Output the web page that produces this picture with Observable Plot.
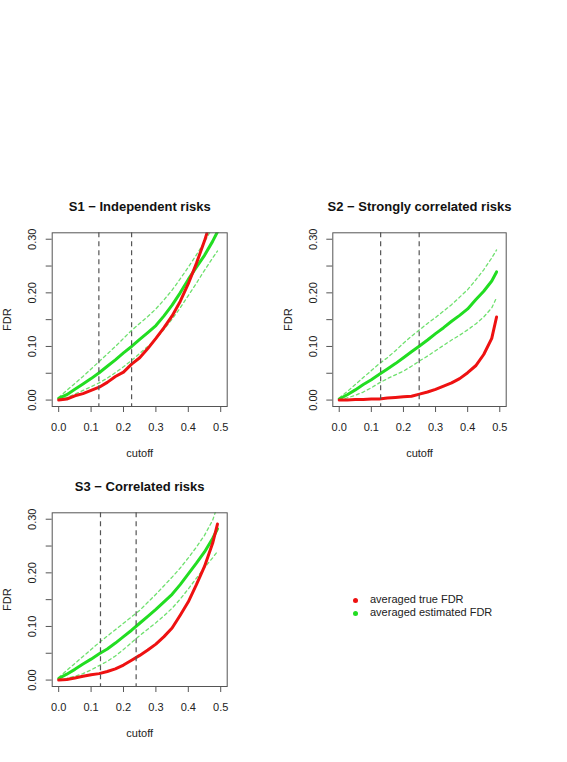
<!DOCTYPE html>
<html>
<head>
<meta charset="utf-8">
<script src="https://cdn.jsdelivr.net/npm/d3@7"></script>
<script src="https://cdn.jsdelivr.net/npm/@observablehq/plot@0.6"></script>
<style>
  html, body { margin: 0; padding: 0; background: #ffffff; }
  #page { position: relative; width: 567px; height: 762px; overflow: hidden;
          font-family: "Liberation Sans", Arial, sans-serif; color: #222; }
  .panel { position: absolute; }
  .legend { position: absolute; font-size: 11px; line-height: 13px; }
  .legend .row { position: absolute; white-space: nowrap; }
  .legend .dot { position: absolute; width: 5px; height: 5px; border-radius: 50%; }
</style>
</head>
<body>
<div id="page"></div>
<script>
// Cutoff grid on which the averaged FDR curves were evaluated
const cutoff = [0, 0.025, 0.05, 0.075, 0.1, 0.125, 0.15, 0.175, 0.2, 0.225, 0.25,
                0.275, 0.3, 0.325, 0.35, 0.375, 0.4, 0.425, 0.45, 0.475, 0.49];

// S1 - independent risks
const s1True  = [0.000, 0.002, 0.008, 0.012, 0.018, 0.024, 0.033, 0.044, 0.052, 0.067, 0.079,
                 0.096, 0.115, 0.135, 0.157, 0.184, 0.217, 0.255, 0.297, 0.345, 0.375];
const s1Est   = [0.003, 0.010, 0.020, 0.030, 0.040, 0.051, 0.063, 0.075, 0.088, 0.100, 0.113,
                 0.126, 0.139, 0.157, 0.177, 0.200, 0.225, 0.248, 0.270, 0.296, 0.314];
const s1Lower = [0.000, 0.005, 0.011, 0.018, 0.025, 0.032, 0.041, 0.051, 0.062, 0.074, 0.087,
                 0.100, 0.114, 0.132, 0.151, 0.172, 0.195, 0.218, 0.242, 0.265, 0.278];
const s1Upper = [0.005, 0.018, 0.031, 0.044, 0.058, 0.072, 0.086, 0.100, 0.115, 0.130, 0.143,
                 0.156, 0.170, 0.187, 0.205, 0.226, 0.248, 0.271, 0.295, 0.322, 0.338];
const s1Cuts  = [0.124, 0.225];

// S2 - strongly correlated risks
const s2True  = [0.000, 0.000, 0.001, 0.001, 0.002, 0.002, 0.004, 0.005, 0.006, 0.007, 0.011,
                 0.015, 0.020, 0.026, 0.032, 0.040, 0.051, 0.064, 0.085, 0.115, 0.155];
const s2Est   = [0.002, 0.010, 0.019, 0.029, 0.038, 0.048, 0.058, 0.068, 0.079, 0.090, 0.101,
                 0.112, 0.124, 0.135, 0.147, 0.158, 0.170, 0.187, 0.203, 0.222, 0.239];
const s2Lower = [0.000, 0.004, 0.009, 0.015, 0.023, 0.032, 0.040, 0.047, 0.054, 0.063, 0.073,
                 0.082, 0.092, 0.102, 0.112, 0.121, 0.131, 0.142, 0.155, 0.172, 0.191];
const s2Upper = [0.004, 0.016, 0.029, 0.042, 0.055, 0.068, 0.079, 0.092, 0.106, 0.119, 0.131,
                 0.143, 0.154, 0.166, 0.178, 0.192, 0.206, 0.224, 0.243, 0.265, 0.280];
const s2Cuts  = [0.129, 0.249];

// S3 - correlated risks
const s3True  = [0.000, 0.001, 0.004, 0.007, 0.010, 0.012, 0.016, 0.021, 0.028, 0.037, 0.046,
                 0.056, 0.067, 0.081, 0.097, 0.121, 0.146, 0.178, 0.212, 0.255, 0.291];
const s3Est   = [0.003, 0.011, 0.020, 0.030, 0.039, 0.049, 0.058, 0.069, 0.081, 0.093, 0.106,
                 0.119, 0.132, 0.146, 0.160, 0.178, 0.198, 0.218, 0.239, 0.264, 0.282];
const s3Lower = [0.000, 0.003, 0.007, 0.012, 0.019, 0.027, 0.035, 0.045, 0.057, 0.070, 0.083,
                 0.095, 0.107, 0.120, 0.134, 0.151, 0.170, 0.190, 0.210, 0.228, 0.240];
const s3Upper = [0.005, 0.018, 0.031, 0.044, 0.057, 0.070, 0.082, 0.094, 0.106, 0.118, 0.130,
                 0.145, 0.160, 0.176, 0.192, 0.209, 0.228, 0.248, 0.270, 0.298, 0.325];
const s3Cuts  = [0.129, 0.239];

// Axis ticks
const xTicks = [0, 0.1, 0.2, 0.3, 0.4, 0.5];
const yTicks = [0, 0.05, 0.10, 0.15, 0.20, 0.25, 0.30];
const yLabels = [0, 0.10, 0.20, 0.30];

const legendLabels = ["averaged true FDR", "averaged estimated FDR"];

const RED = "#ee1111";
const GREEN = "#22dd22";
const CI = "#6fe06f";
const AXIS = "#555555";
const FONT = "'Liberation Sans', Arial, sans-serif";

const page = document.getElementById("page");

function panel({title, left, top, width, height, margins, trueFdr, estFdr, lower, upper, cuts}) {
  const rows = cutoff.map((c, i) => ({
    cutoff: c, trueFdr: trueFdr[i], estFdr: estFdr[i], lower: lower[i], upper: upper[i]
  }));
  const chart = Plot.plot({
    width, height,
    marginLeft: margins[0], marginRight: margins[1], marginTop: margins[2], marginBottom: margins[3],
    x: {domain: [-0.02, 0.52]},
    y: {domain: [-0.012, 0.312]},
    style: {fontFamily: FONT, fontSize: "11px", color: "#222", background: "transparent", overflow: "visible"},
    marks: [
      Plot.line(rows, {x: "cutoff", y: "upper", stroke: CI, strokeWidth: 1.3, strokeDasharray: "3,3", clip: true}),
      Plot.line(rows, {x: "cutoff", y: "lower", stroke: CI, strokeWidth: 1.3, strokeDasharray: "3,3", clip: true}),
      Plot.line(rows, {x: "cutoff", y: "estFdr", stroke: GREEN, strokeWidth: 3, clip: true}),
      Plot.line(rows, {x: "cutoff", y: "trueFdr", stroke: RED, strokeWidth: 3, clip: true}),
      Plot.ruleX(cuts, {stroke: AXIS, strokeWidth: 1.2, strokeDasharray: "5,4"}),
      Plot.frame({stroke: AXIS, strokeWidth: 1}),
      Plot.axisX({ticks: xTicks, tickSize: 6, tickPadding: 11, tickFormat: d3.format(".1f"),
                  label: null, stroke: AXIS, fill: "#222"}),
      Plot.axisY({ticks: yTicks, tickSize: 6, tickFormat: () => "", label: null, stroke: AXIS}),
      Plot.text(yLabels, {y: d => d, text: d3.format(".2f"), frameAnchor: "left", dx: -19.5,
                          rotate: -90, textAnchor: "middle", lineAnchor: "middle", fill: "#222"}),
      Plot.text([title], {text: d => d, frameAnchor: "top", dy: -26.3, lineAnchor: "middle",
                          fontWeight: "bold", fontSize: 13, fill: "#111"}),
      Plot.text(["cutoff"], {text: d => d, frameAnchor: "bottom", dy: 47.3, lineAnchor: "middle", fill: "#222"}),
      Plot.text(["FDR"], {text: d => d, frameAnchor: "left", dx: -44.5, rotate: -90,
                          lineAnchor: "middle", textAnchor: "middle", fill: "#222"})
    ]
  });
  const holder = document.createElement("div");
  holder.className = "panel";
  holder.style.left = left + "px";
  holder.style.top = top + "px";
  holder.appendChild(chart);
  page.appendChild(holder);
}

panel({title: "S1 \u2212 Independent risks", left: 0, top: 190, width: 283, height: 280,
       margins: [51.7, 56.3, 42.3, 64], trueFdr: s1True, estFdr: s1Est, lower: s1Lower, upper: s1Upper, cuts: s1Cuts});
panel({title: "S2 \u2212 Strongly correlated risks", left: 283, top: 190, width: 284, height: 280,
       margins: [49.3, 61.3, 42.3, 64], trueFdr: s2True, estFdr: s2Est, lower: s2Lower, upper: s2Upper, cuts: s2Cuts});
panel({title: "S3 \u2212 Correlated risks", left: 0, top: 470, width: 283, height: 292,
       margins: [51.7, 56.3, 42.3, 76], trueFdr: s3True, estFdr: s3Est, lower: s3Lower, upper: s3Upper, cuts: s3Cuts});

// Legend in the empty fourth cell
const legend = document.createElement("div");
legend.className = "legend";
legend.style.left = "0px";
legend.style.top = "0px";
[RED, GREEN].forEach((color, i) => {
  const cy = 600 + i * 13.3;
  const dot = document.createElement("span");
  dot.className = "dot";
  dot.style.background = color;
  dot.style.left = (355 - 2.5) + "px";
  dot.style.top = (cy - 2.5) + "px";
  legend.appendChild(dot);
  const row = document.createElement("span");
  row.className = "row";
  row.textContent = legendLabels[i];
  row.style.left = "370px";
  row.style.top = (cy - 7) + "px";
  legend.appendChild(row);
});
page.appendChild(legend);
</script>
</body>
</html>
